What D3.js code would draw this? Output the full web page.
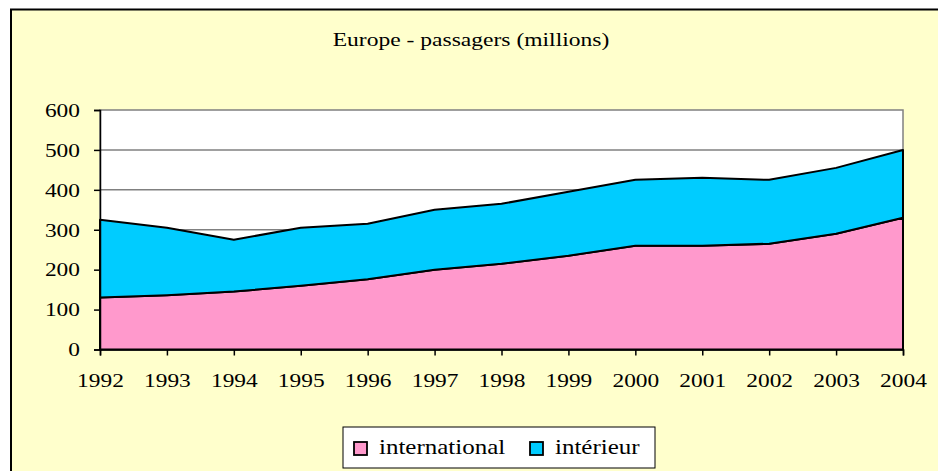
<!DOCTYPE html>
<html><head><meta charset="utf-8">
<script src="https://cdn.jsdelivr.net/npm/d3@7"></script>
<style>body{margin:0;background:#fff}svg{display:block}
text{font-family:"Liberation Serif","Times New Roman",Tinos,"DejaVu Serif",serif}</style>
</head><body>
<svg id="c" width="938" height="471"></svg>
<script>
const years = [1992,1993,1994,1995,1996,1997,1998,1999,2000,2001,2002,2003,2004];
const international = [130,136,145,160,176,200,215,235,260,260,265,290,330];
const interieur = [195,169,130,145,139,150,150,160,165,170,160,165,170];
const yTicks = [0,100,200,300,400,500,600];
const seriesNames = ["international","intérieur"];
const colors = ["#FF99CC","#00CCFF"];

const svg = d3.select("#c");
function stretch(sel, sx){
  sel.each(function(){
    const t = d3.select(this);
    const x0 = +(t.attr("x")||0);
    t.attr("x", x0/sx).attr("transform", `scale(${sx},1)`);
  });
}
svg.append("rect").attr("x",11).attr("y",9.5).attr("width",940).attr("height",470)
  .attr("fill","#FFFFCC").attr("stroke","#000").attr("stroke-width",2);

const x = d3.scalePoint().domain(years).range([100,903]);
const y = d3.scaleLinear().domain([0,600]).range([349.5,110]);

svg.append("rect").attr("x",100).attr("y",110).attr("width",803).attr("height",239.5)
  .attr("fill","#fff").attr("stroke","#808080").attr("stroke-width",1.5);

svg.append("g").selectAll("line").data(yTicks.filter(d=>d>0&&d<600)).join("line")
  .attr("x1",100).attr("x2",903).attr("y1",d=>y(d)).attr("y2",d=>y(d))
  .attr("stroke","#808080").attr("stroke-width",1.5);

const table = years.map((yr,i)=>({year:yr,international:international[i],"intérieur":interieur[i]}));
const stack = d3.stack().keys(seriesNames)(table);
const area = d3.area().x(d=>x(d.data.year)).y0(d=>y(d[0])).y1(d=>y(d[1]));
svg.append("g").selectAll("path").data(stack).join("path")
  .attr("d",area).attr("fill",(d,i)=>colors[i]).attr("stroke","#000").attr("stroke-width",2)
  .attr("stroke-linejoin","round");

const yAxis = svg.append("g").attr("transform","translate(100,0)")
  .call(d3.axisLeft(y).tickValues(yTicks).tickSize(6).tickPadding(14).tickFormat(d3.format("d")));
const xAxis = svg.append("g").attr("transform","translate(0,349.5)")
  .call(d3.axisBottom(x).tickSize(6).tickPadding(18).tickFormat(d3.format("d")));
[yAxis,xAxis].forEach(g=>{
  g.attr("font-family",null);
  g.selectAll("text").attr("font-size",19.5).attr("fill","#000");
  g.selectAll("line,path").attr("stroke","#000").attr("stroke-width",1.5);
  stretch(g.selectAll("text"),1.2);
});

const title = svg.append("text").attr("x",471).attr("y",46).attr("text-anchor","middle")
  .attr("font-size",19).text("Europe - passagers (millions)");
stretch(title,1.24);

const lg = svg.append("g");
lg.append("rect").attr("x",343).attr("y",427).attr("width",312).attr("height",41)
  .attr("fill","#fff").attr("stroke","#000").attr("stroke-width",1);
const lx = [354,530];
seriesNames.forEach((n,i)=>{
  lg.append("rect").attr("x",lx[i]).attr("y",442).attr("width",13).attr("height",13)
    .attr("fill",colors[i]).attr("stroke","#000").attr("stroke-width",1.8);
  const t = lg.append("text").attr("x",lx[i]+25).attr("y",454)
    .attr("font-size",21).text(n);
  stretch(t,1.19);
});
</script>
</body></html>
